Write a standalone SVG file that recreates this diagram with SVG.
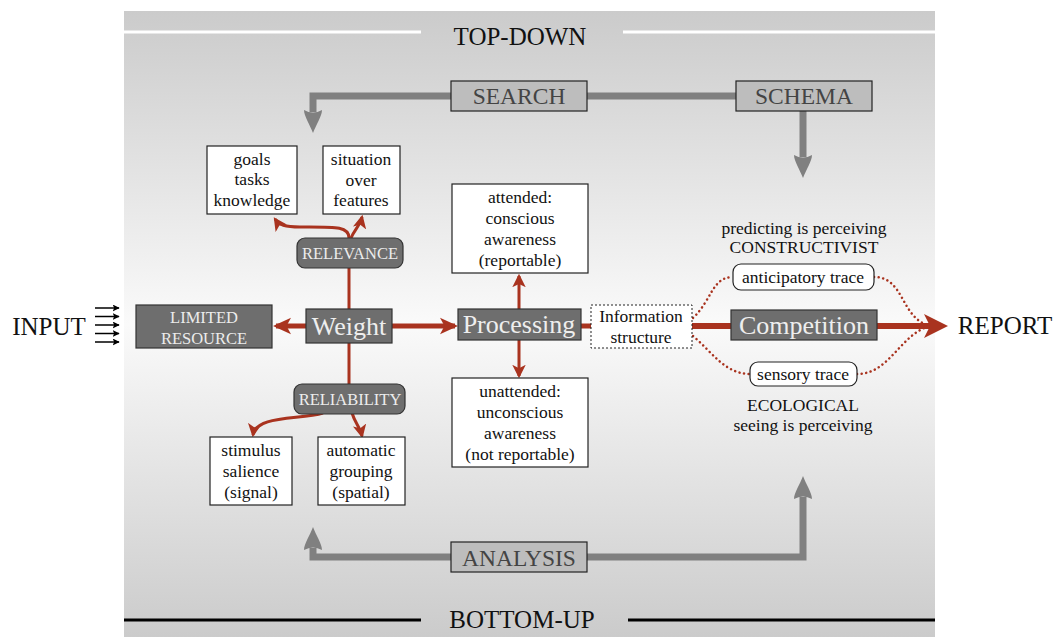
<svg xmlns="http://www.w3.org/2000/svg" width="1054" height="637" viewBox="0 0 1054 637">
<defs>
<linearGradient id="bg" x1="0" y1="11" x2="0" y2="637" gradientUnits="userSpaceOnUse">
<stop offset="0" stop-color="#cbcbcb"/>
<stop offset="0.5" stop-color="#fafafa"/>
<stop offset="1" stop-color="#cbcbcb"/>
</linearGradient>
<marker id="ra" viewBox="0 0 12 12" refX="10" refY="6" markerWidth="18" markerHeight="18" markerUnits="userSpaceOnUse" orient="auto">
<path d="M0,0.5 L12,6 L0,11.5 L3,6 Z" fill="#a9331f"/>
</marker>
<marker id="rb" viewBox="0 0 12 12" refX="10" refY="6" markerWidth="4.5" markerHeight="4.5" orient="auto">
<path d="M0,0 L12,6 L0,12 L3,6 Z" fill="#a9331f"/>
</marker>
<marker id="bk" viewBox="0 0 10 10" refX="9" refY="5" markerWidth="7" markerHeight="7" markerUnits="userSpaceOnUse" orient="auto">
<path d="M0,0 L10,5 L0,10 L2,5 Z" fill="#000"/>
</marker>
<style>
text{font-family:"Liberation Serif","DejaVu Serif",serif;text-anchor:middle}
.wb{fill:#fff;stroke:#222;stroke-width:1.2}
.db{fill:#6e6e6e;stroke:#333;stroke-width:1.2}
.gb{fill:#bdbdbd;stroke:#222;stroke-width:1.2}
.t15{font-size:17.5px;fill:#111}
.tl{font-size:16.5px;fill:#ececec}
.tb{font-size:26px;fill:#eeeeee}
.tg{font-size:23.5px;fill:#444}
.big{font-size:25px;fill:#111}
.red{stroke:#a9331f;fill:none}
.gl{stroke:#808080;stroke-width:7;fill:none}
.ga{fill:#808080}
.dot{stroke:#a9331f;stroke-width:2.5;fill:none;stroke-dasharray:0.1 4.5;stroke-linecap:round}
</style>
</defs>
<rect x="0" y="0" width="1054" height="637" fill="#fff"/>
<rect x="124" y="11" width="811" height="626" fill="url(#bg)"/>
<g id="top-label">
<line x1="124" y1="32" x2="421" y2="32" stroke="#fff" stroke-width="3"/>
<line x1="623" y1="32" x2="935" y2="32" stroke="#fff" stroke-width="3"/>
<text x="520" y="45" class="big">TOP-DOWN</text>
</g>
<g id="bottom-label">
<line x1="124" y1="620" x2="421" y2="620" stroke="#000" stroke-width="3"/>
<line x1="628" y1="620" x2="935" y2="620" stroke="#000" stroke-width="3"/>
<text x="522" y="628" class="big">BOTTOM-UP</text>
</g>
<g id="connectors">
<path class="gl" d="M451,96 H313 V112"/>
<path class="ga" d="M313,133 C316,125 322,116 322,110 Q313,115 304,110 C304,116 310,125 313,133 Z"/>
<path class="gl" d="M587,96 H736"/>
<path class="gl" d="M803,111 V157"/>
<path class="ga" d="M803,178 C806,170 812,161 812,155 Q803,160 794,155 C794,161 800,170 803,178 Z"/>
<path class="gl" d="M451,557 H313 V548"/>
<path class="ga" d="M313,527 C316,535 322,544 322,550 Q313,545 304,550 C304,544 310,535 313,527 Z"/>
<path class="gl" d="M587,557 H803 V497"/>
<path class="ga" d="M803,476 C806,484 812,493 812,499 Q803,494 794,499 C794,493 800,484 803,476 Z"/>
<line class="red" x1="349" y1="309" x2="349" y2="268" stroke-width="3"/>
<path class="red" stroke-width="3" marker-end="url(#rb)" d="M349,238 C349,226 335,227 300,227 C285,227 279,225 275,219"/>
<path class="red" stroke-width="3" marker-end="url(#rb)" d="M351,238 C354,230 360,226 362,217"/>
<line class="red" x1="349" y1="343" x2="349" y2="384" stroke-width="3"/>
<path class="red" stroke-width="3" marker-end="url(#rb)" d="M323,413 C300,420 256,415 253,435"/>
<path class="red" stroke-width="3" marker-end="url(#rb)" d="M352,413 C355,423 360,427 362,436"/>
<line class="red" x1="306" y1="326" x2="276" y2="326" stroke-width="5" marker-end="url(#ra)"/>
<line class="red" x1="392" y1="326" x2="455" y2="326" stroke-width="5" marker-end="url(#ra)"/>
<line class="red" x1="519" y1="309" x2="519" y2="276" stroke-width="3" marker-end="url(#rb)"/>
<line class="red" x1="519" y1="340" x2="519" y2="376" stroke-width="3" marker-end="url(#rb)"/>
<line class="red" x1="581" y1="326" x2="591" y2="326" stroke-width="5"/>
<line class="red" x1="692" y1="326" x2="731" y2="326" stroke-width="6"/>
<line class="red" x1="877" y1="326" x2="930" y2="326" stroke-width="6"/>
<path d="M948,326 L924,314 L930,326 L924,338 Z" fill="#a9331f"/>
<path class="dot" d="M693,318 C712,300 712,277 733,277"/>
<path class="dot" d="M874,277 C905,277 900,318 930,326"/>
<path class="dot" d="M693,336 C712,352 725,374 750,374"/>
<path class="dot" d="M857,374 C890,374 900,334 930,326"/>
<g stroke="#000" stroke-width="1.5" marker-end="url(#bk)">
<line x1="95" y1="308" x2="119" y2="308"/>
<line x1="95" y1="316.5" x2="119" y2="316.5"/>
<line x1="95" y1="325" x2="119" y2="325"/>
<line x1="95" y1="333.5" x2="119" y2="333.5"/>
<line x1="95" y1="342" x2="119" y2="342"/>
</g>
</g>
<g id="search"><rect class="gb" x="451" y="81" width="136" height="30"/><text x="519" y="104" class="tg">SEARCH</text></g>
<g id="schema"><rect class="gb" x="736" y="81" width="136" height="30"/><text x="804" y="104" class="tg">SCHEMA</text></g>
<g id="analysis"><rect class="gb" x="451" y="542" width="136" height="30"/><text x="519" y="566" class="tg">ANALYSIS</text></g>
<g id="goals"><rect class="wb" x="207" y="146" width="90" height="68"/>
<text class="t15" x="252" y="165">goals</text><text class="t15" x="252" y="185">tasks</text><text class="t15" x="252" y="206">knowledge</text></g>
<g id="situation"><rect class="wb" x="323" y="146" width="77" height="68"/>
<text class="t15" x="361" y="165">situation</text><text class="t15" x="361" y="186">over</text><text class="t15" x="361" y="206">features</text></g>
<g id="relevance"><rect class="db" x="297" y="238" width="106" height="30" rx="8"/><text class="tl" x="350" y="259">RELEVANCE</text></g>
<g id="reliability"><rect class="db" x="294" y="384" width="111" height="30" rx="8"/><text class="tl" x="350" y="405">RELIABILITY</text></g>
<g id="stimulus"><rect class="wb" x="210" y="437" width="82" height="68"/>
<text class="t15" x="251" y="456">stimulus</text><text class="t15" x="251" y="477">salience</text><text class="t15" x="251" y="498">(signal)</text></g>
<g id="automatic"><rect class="wb" x="318" y="437" width="87" height="68"/>
<text class="t15" x="361" y="456">automatic</text><text class="t15" x="361" y="477">grouping</text><text class="t15" x="361" y="498">(spatial)</text></g>
<g id="input"><text class="big" x="49" y="335">INPUT</text></g>
<g id="limited"><rect class="db" x="136" y="305" width="136" height="43"/>
<text class="tl" x="204" y="323">LIMITED</text><text class="tl" x="204" y="344">RESOURCE</text></g>
<g id="weight"><rect class="db" x="306" y="309" width="86" height="34"/><text class="tb" x="349" y="335">Weight</text></g>
<g id="processing"><rect class="db" x="458" y="309" width="123" height="31"/><text class="tb" x="519" y="333">Processing</text></g>
<g id="attended"><rect class="wb" x="452" y="184" width="136" height="89"/>
<text class="t15" x="520" y="203">attended:</text><text class="t15" x="520" y="224">conscious</text><text class="t15" x="520" y="245">awareness</text><text class="t15" x="520" y="266">(reportable)</text></g>
<g id="unattended"><rect class="wb" x="452" y="378" width="136" height="89"/>
<text class="t15" x="520" y="397">unattended:</text><text class="t15" x="520" y="418">unconscious</text><text class="t15" x="520" y="439">awareness</text><text class="t15" x="520" y="460">(not reportable)</text></g>
<g id="information"><rect x="591" y="305" width="101" height="43" fill="#fff" stroke="#222" stroke-width="1" stroke-dasharray="2 2"/>
<text class="t15" x="641" y="322">Information</text><text class="t15" x="641" y="343">structure</text></g>
<g id="competition"><rect class="db" x="731" y="310" width="146" height="30"/><text class="tb" x="804" y="334">Competition</text></g>
<g id="report"><text class="big" x="1005" y="334">REPORT</text></g>
<g id="constructivist"><text class="t15" x="804" y="234">predicting is perceiving</text><text class="t15" x="804" y="253">CONSTRUCTIVIST</text></g>
<g id="anticipatory"><rect x="733" y="264" width="141" height="26" rx="8" fill="#fff" stroke="#222" stroke-width="1.2"/><text class="t15" x="803" y="283">anticipatory trace</text></g>
<g id="sensory"><rect x="750" y="362" width="107" height="24" rx="8" fill="#fff" stroke="#222" stroke-width="1.2"/><text class="t15" x="803" y="380">sensory trace</text></g>
<g id="ecological"><text class="t15" x="803" y="411">ECOLOGICAL</text><text class="t15" x="803" y="431">seeing is perceiving</text></g>
</svg>
